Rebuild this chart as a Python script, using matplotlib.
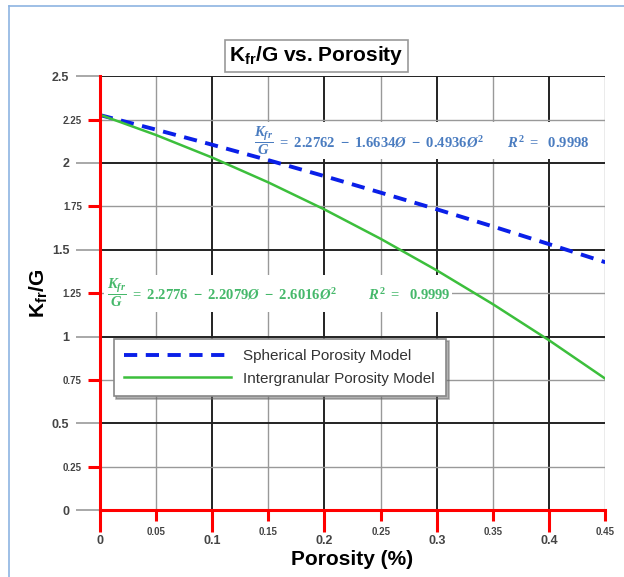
import numpy as np
import matplotlib.pyplot as plt
from matplotlib.lines import Line2D
from matplotlib.ticker import MultipleLocator

# values at every 0.05 of porosity
porosity = [0.0, 0.05, 0.10, 0.15, 0.20, 0.25, 0.30, 0.35, 0.40, 0.45]
spherical = [2.276, 2.192, 2.105, 2.016, 1.924, 1.829, 1.733, 1.634, 1.532, 1.428]
intergranular = [2.278, 2.161, 2.031, 1.888, 1.732, 1.563, 1.381, 1.186, 0.978, 0.757]

series_labels = ["Spherical Porosity Model", "Intergranular Porosity Model"]
eq_spherical = (r"$\dfrac{K_{fr}}{G}\ =\ 2.2762\ -\ 1.6634\O\ -\ 0.4936\O^2$" + "      "
                + r"$R^2\ =\ \ 0.9998$")
eq_intergranular = (r"$\dfrac{K_{fr}}{G}\ =\ 2.2776\ -\ 2.2079\O\ -\ 2.6016\O^2$" + "        "
                    + r"$R^2\ =\ \ 0.9999$")

plt.rcParams["font.family"] = ["Liberation Sans", "DejaVu Sans"]
plt.rcParams["mathtext.fontset"] = "custom"
plt.rcParams["mathtext.rm"] = "Liberation Serif:bold"
plt.rcParams["mathtext.it"] = "Liberation Serif:italic:bold"
plt.rcParams["mathtext.bf"] = "Liberation Sans:bold"
plt.rcParams["mathtext.fallback"] = "stix"

fig = plt.figure(figsize=(6.24, 5.77), dpi=100)
ax = fig.add_axes([0.160, 0.116, 0.810, 0.752])

# light blue frame around the picture (left and top edges visible)
fig.add_artist(Line2D([9 / 624, 9 / 624], [0, 1 - 6 / 577], transform=fig.transFigure,
                      color="#8db4e2", lw=1.2))
fig.add_artist(Line2D([9 / 624, 1], [1 - 6 / 577, 1 - 6 / 577], transform=fig.transFigure,
                      color="#8db4e2", lw=1.2))

blue = "#0a1fe8"
green = "#3cbf3c"

ax.plot(porosity, spherical, color=blue, lw=2.8, ls=(0, (3.4, 2.2)), zorder=5)
ax.plot(porosity, intergranular, color=green, lw=1.8, zorder=5)

ax.set_xlim(0, 0.45)
ax.set_ylim(0, 2.5)

ax.grid(which="major", color="#222222", lw=1.4, zorder=1)
ax.grid(which="minor", color="#999999", lw=1.0, zorder=1)

for s in ["top", "right"]:
    ax.spines[s].set_visible(False)
for s in ["left", "bottom"]:
    ax.spines[s].set_color("red")
    ax.spines[s].set_linewidth(2.2)
    ax.spines[s].set_zorder(6)

ax.tick_params(axis="x", which="major", colors="red", length=16, width=2.2,
               labelcolor="#444444", labelsize=9, pad=2)
ax.tick_params(axis="x", which="minor", colors="red", length=8, width=2.2,
               labelcolor="#444444", labelsize=7, pad=4)
ax.tick_params(axis="y", which="major", colors="#999999", length=17, width=1.2,
               labelcolor="#444444", labelsize=9, pad=5)
ax.tick_params(axis="y", which="minor", colors="red", length=9, width=2.2,
               labelcolor="#444444", labelsize=7, pad=4)

def fmt(v):
    return "0" if v == 0 else f"{v:g}"

xmaj = [0, 0.1, 0.2, 0.3, 0.4]
xmin = [0.05, 0.15, 0.25, 0.35, 0.45]
ymaj = [0, 0.5, 1, 1.5, 2, 2.5]
ymin = [0.25, 0.75, 1.25, 1.75, 2.25]
ax.set_xticks(xmaj)
ax.set_xticklabels([fmt(v) for v in xmaj], fontweight="bold")
ax.set_xticks(xmin, minor=True)
ax.set_xticklabels([fmt(v) for v in xmin], minor=True, fontweight="bold")
ax.set_yticks(ymaj)
ax.set_yticklabels([fmt(v) for v in ymaj], fontweight="bold")
ax.set_yticks(ymin, minor=True)
ax.set_yticklabels([fmt(v) for v in ymin], minor=True, fontweight="bold")

ax.set_xlabel("Porosity (%)", fontsize=15, fontweight="bold", labelpad=2)
ax.set_ylabel(r"K$_{\mathbf{fr}}$/G", fontsize=15, fontweight="bold", labelpad=2)

fig.text(0.507, 0.903, r"K$_{\mathbf{fr}}$/G vs. Porosity", ha="center", va="center",
         fontsize=15, fontweight="bold",
         bbox=dict(boxstyle="square,pad=0.2", facecolor="white", edgecolor="#999999", lw=1.2))

ax.text(0.287, 2.13, eq_spherical, ha="center", va="center", fontsize=10.5,
        color="#4a7cc0", zorder=4,
        bbox=dict(boxstyle="square,pad=0.15", facecolor="white", edgecolor="none"))
ax.text(0.159, 1.25, eq_intergranular, ha="center", va="center", fontsize=10.5,
        color="#45b86a", zorder=4,
        bbox=dict(boxstyle="square,pad=0.15", facecolor="white", edgecolor="none"))

handles = [Line2D([0], [0], color=blue, lw=2.8, ls=(0, (3.4, 2.2))),
           Line2D([0], [0], color=green, lw=1.8)]
leg = ax.legend(handles, series_labels, loc="upper left", bbox_to_anchor=(0.012, 0.413),
                fontsize=11, frameon=True, fancybox=False, shadow={"color": "#666666"},
                edgecolor="#888888", handlelength=7.0, borderpad=0.7, labelspacing=0.55)
leg.get_frame().set_linewidth(1.2)
for t in leg.get_texts():
    t.set_color("#333333")
leg.set_zorder(7)

fig.savefig("out.png", dpi=100)
